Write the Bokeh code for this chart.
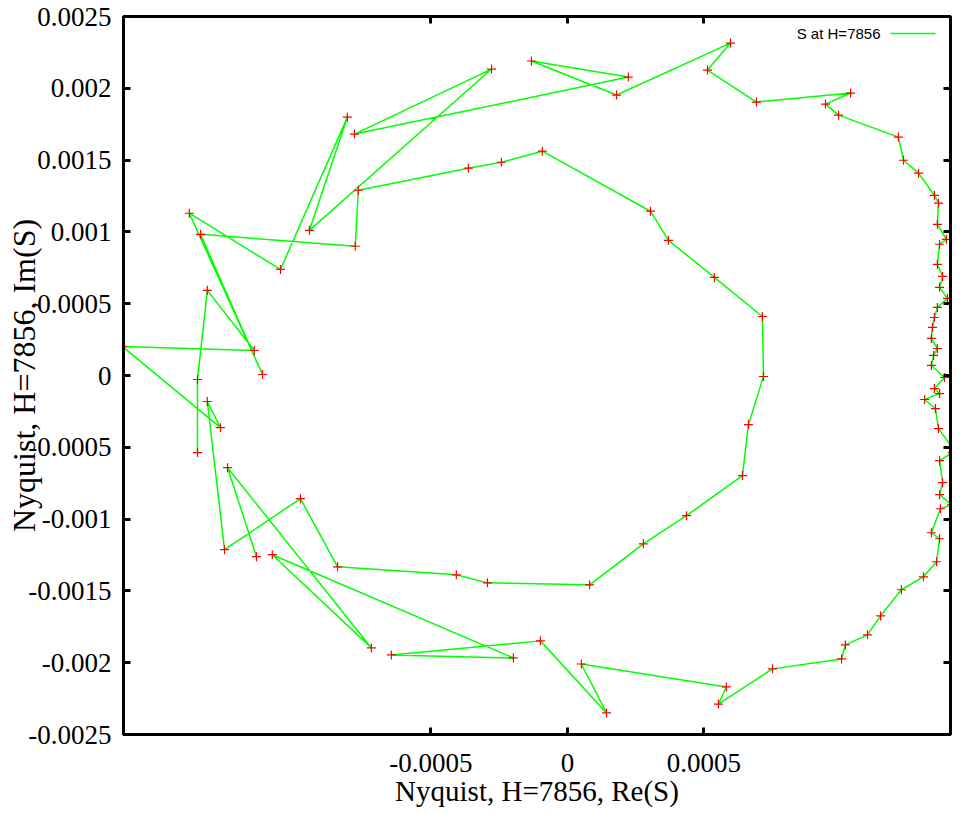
from bokeh.plotting import figure
from bokeh.models import (Range1d, FixedTicker, CustomJSTickFormatter, LinearAxis,
                          Label, Arrow)
from bokeh.embed import file_html
from bokeh.resources import INLINE

# ---- data: Re(S), Im(S) along the trace ----
re_left = [-0.001355, -0.001355, -0.001319, -0.001147, -0.00163, -0.001271,
           -0.001319, -0.001256, -0.000978, -0.000842]
im_left = [-0.000537, -0.000028, 0.000593, 0.000174, 0.000202, -0.000363,
           -0.000181, -0.001213, -0.000858, -0.001332]

re_inner = [-0.000407, -0.000293, 0.000081, 0.000278, 0.000436, 0.000641,
            0.000663, 0.000718, 0.000714, 0.000538, 0.00037, 0.000304,
            -0.000092, -0.000242, -0.000363, -0.000766, -0.000777]
im_inner = [-0.001388, -0.001444, -0.001458, -0.001172, -0.000976, -0.000697,
            -0.000342, -0.000007, 0.000411, 0.000683, 0.000941, 0.001144,
            0.001562, 0.001485, 0.001444, 0.00129, 0.0009]

re_upper = [-0.001344, -0.001117, -0.001385, -0.001051, -0.000806, -0.000945,
            -0.000278, -0.00078, 0.000223, -0.000132, 0.00018, 0.000597, 0.000513]
im_upper = [0.000983, 0.000007, 0.00113, 0.000739, 0.001799, 0.001011,
            0.002134, 0.001681, 0.002078, 0.00219, 0.001953, 0.002315, 0.002127]

re_right = [0.000692, 0.001037, 0.000945, 0.000993, 0.001212, 0.001231, 0.001286,
            0.001344, 0.001359, 0.001355, 0.001388, 0.001363, 0.001355, 0.001374,
            0.001363, 0.001392, 0.001355, 0.001344, 0.001337, 0.001333, 0.001355,
            0.001341, 0.001333, 0.001381, 0.001344, 0.001363, 0.001308, 0.001348,
            0.001359, 0.001407, 0.00141, 0.001363, 0.001374, 0.001363, 0.001407,
            0.001366, 0.001333, 0.001363, 0.001352, 0.001304, 0.001223, 0.001147,
            0.001099, 0.001018, 0.001004]
im_right = [0.001904, 0.001967, 0.00189, 0.001813, 0.00166, 0.001499, 0.001409,
            0.001255, 0.0012, 0.001053, 0.000948, 0.000914, 0.000774, 0.00069,
            0.000614, 0.000537, 0.000474, 0.000404, 0.000335, 0.000258, 0.000188,
            0.00014, 0.00007, -0.000014, -0.000091, -0.000126, -0.000167, -0.00023,
            -0.00037, -0.000495, -0.000537, -0.000593, -0.000746, -0.00083, -0.0009,
            -0.000928, -0.001095, -0.001137, -0.001297, -0.001402, -0.001492,
            -0.001674, -0.001806, -0.001876, -0.001974]

re_lower = [0.000751, 0.000553, 0.000582, 0.000051, 0.000143, -0.000099,
            -0.000645, -0.000198, -0.001081, -0.000718, -0.001245, -0.001139]
im_lower = [-0.002043, -0.002288, -0.002169, -0.002009, -0.00235, -0.001848,
            -0.001946, -0.001967, -0.001248, -0.001897, -0.000642, -0.001262]

x_ticks = [-0.0005, 0.0, 0.0005]
y_ticks = [-0.0025, -0.002, -0.0015, -0.001, -0.0005, 0.0,
           0.0005, 0.001, 0.0015, 0.002, 0.0025]
x_lim = (-0.001626, 0.001403)
y_lim = (-0.0025, 0.0025)
series_label = "S at H=7856"
x_title = "Nyquist, H=7856, Re(S)"
y_title = "Nyquist, H=7856, Im(S)"

re_s = re_left + re_inner + re_upper + re_right + re_lower
im_s = im_left + im_inner + im_upper + im_right + im_lower

p = figure(width=961, height=813, output_backend="svg", toolbar_location=None,
           x_range=Range1d(*x_lim), y_range=Range1d(*y_lim),
           min_border_left=123, min_border_right=11, min_border_top=16,
           min_border_bottom=79)
p.background_fill_color = "white"
p.border_fill_color = "white"
p.outline_line_color = "black"
p.outline_line_width = 3
p.xgrid.visible = False
p.ygrid.visible = False

fmt = CustomJSTickFormatter(code="return tick.toString();")

def style_axis(ax, ticks, font_size, show_labels=True):
    ax.ticker = FixedTicker(ticks=ticks)
    ax.formatter = fmt
    ax.axis_line_color = "black"
    ax.axis_line_width = 3
    ax.major_tick_in = 7
    ax.major_tick_out = 0
    ax.major_tick_line_width = 3
    ax.major_tick_line_color = "black"
    ax.minor_tick_line_color = None
    ax.major_label_text_font = "Liberation Serif"
    ax.major_label_text_font_size = font_size
    ax.major_label_text_color = "black"
    if not show_labels:
        ax.major_label_text_color = None
        ax.major_label_text_font_size = "1px"
        ax.major_label_standoff = 0

xb = p.xaxis[0]
yl = p.yaxis[0]
style_axis(xb, x_ticks, "27px")
xb.major_label_standoff = 19
xb.axis_label = x_title
xb.axis_label_text_font = "Liberation Serif"
xb.axis_label_text_font_style = "normal"
xb.axis_label_text_font_size = "29px"
xb.axis_label_text_color = "black"
xb.axis_label_standoff = 0

style_axis(yl, y_ticks, "27px")
yl.major_label_standoff = 12
yl.axis_label = y_title
yl.axis_label_text_font = "Liberation Serif"
yl.axis_label_text_font_style = "normal"
yl.axis_label_text_font_size = "32px"
yl.axis_label_text_color = "black"
yl.axis_label_standoff = -17

xa = LinearAxis()
style_axis(xa, x_ticks, "1px", show_labels=False)
p.add_layout(xa, "above")
yr = LinearAxis()
style_axis(yr, y_ticks, "1px", show_labels=False)
p.add_layout(yr, "right")

p.line(re_s, im_s, line_color="#00ff00", line_width=1.5)
p.scatter(re_s, im_s, marker="cross", size=9, line_color="#ff0000", line_width=1.2)

# key: text then a short green line, top right
p.add_layout(Label(x=757, y=701, x_units="screen", y_units="screen",
                   text=series_label, text_align="right", text_baseline="middle",
                   text_font="Liberation Sans", text_font_size="15px",
                   text_color="black"))
p.add_layout(Arrow(x_start=767, y_start=701, x_end=812, y_end=701,
                   start_units="screen", end_units="screen", end=None,
                   line_color="#00ff00", line_width=1.5))

open("out.html", "w").write(file_html(p, INLINE))
